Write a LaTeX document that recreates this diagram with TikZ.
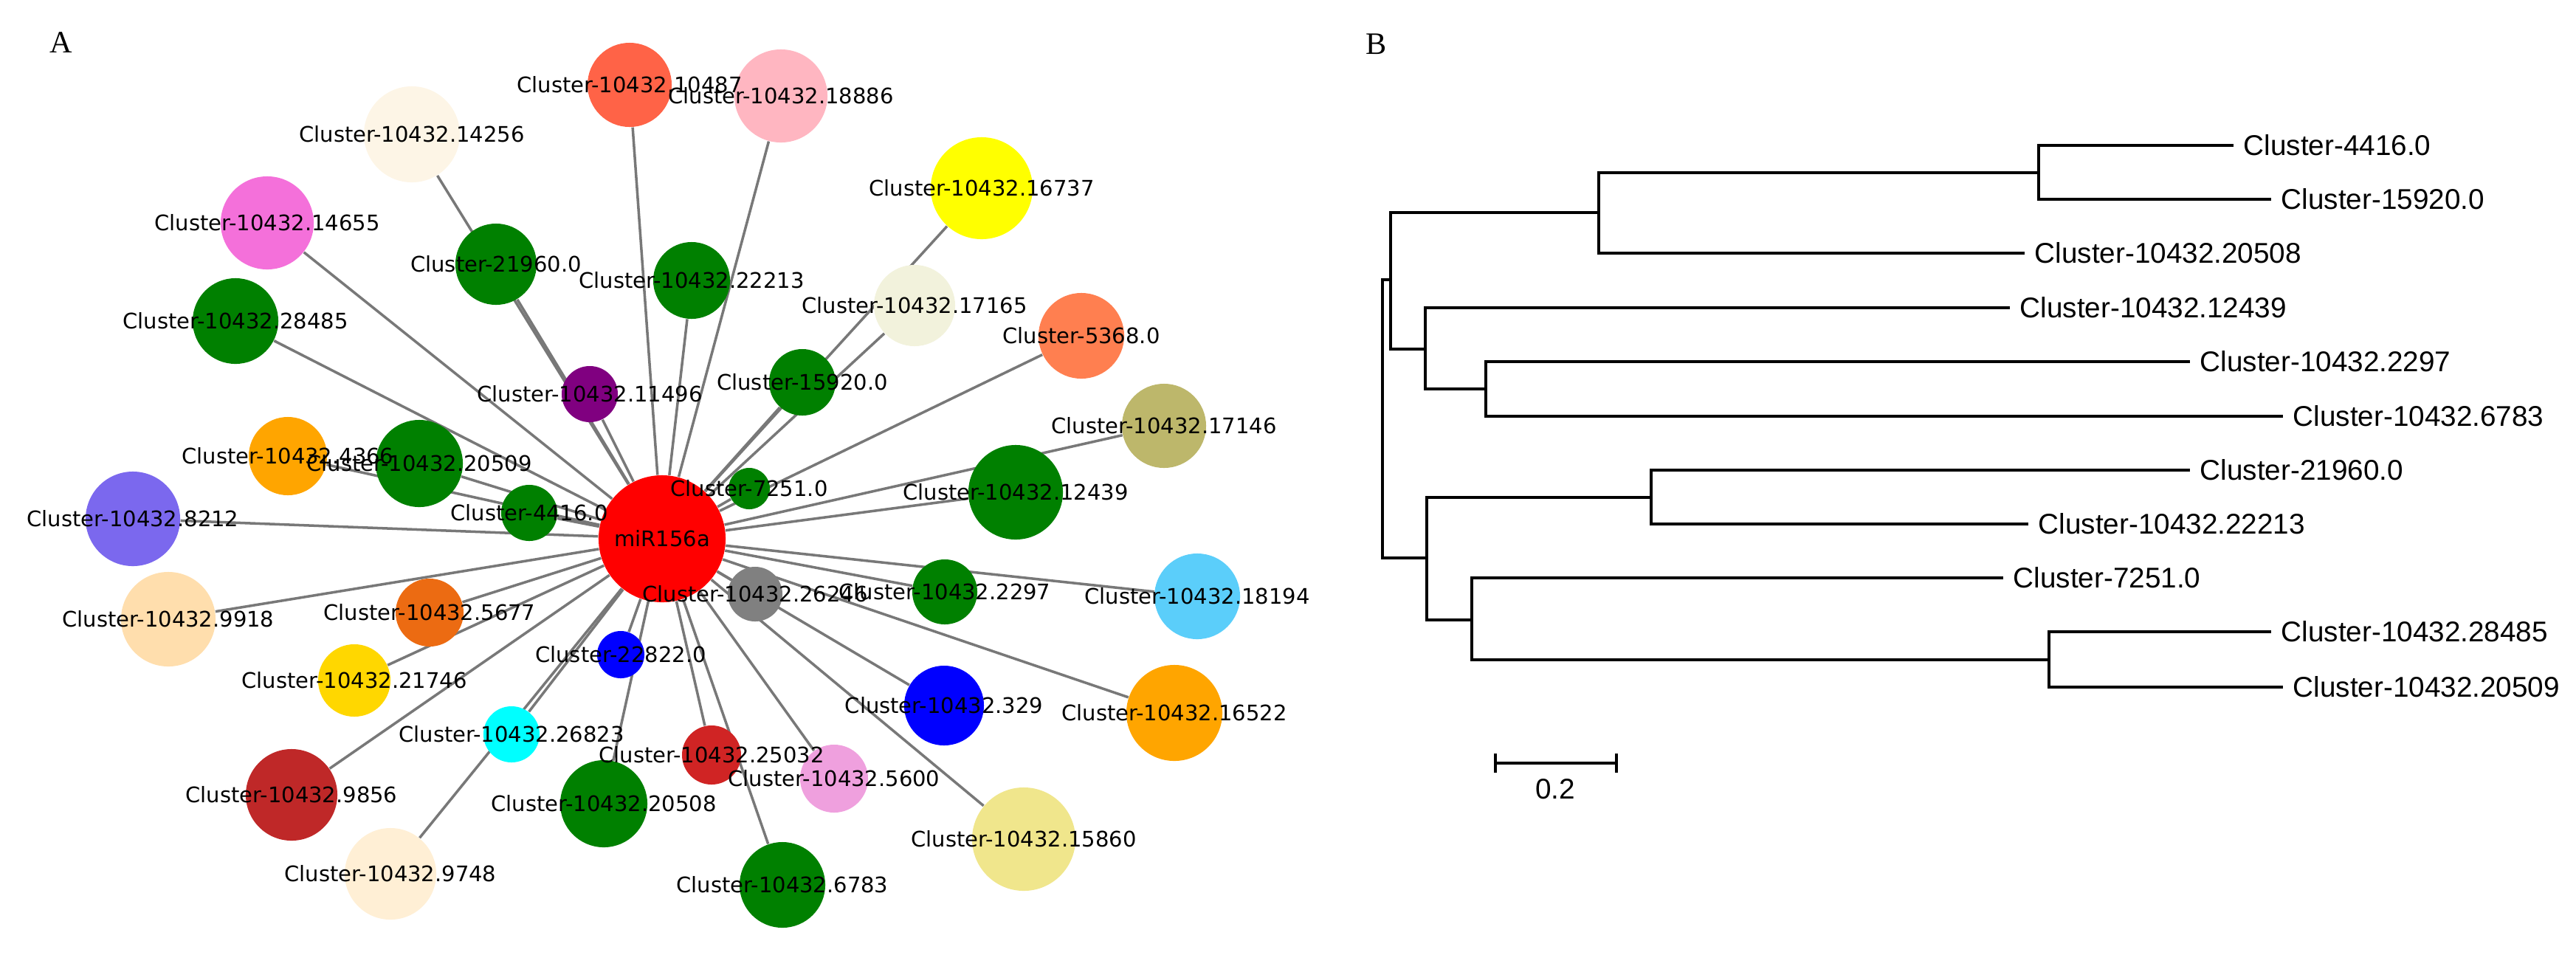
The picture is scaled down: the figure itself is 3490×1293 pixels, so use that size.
\documentclass[tikz,border=0pt]{standalone}
\usepackage{fontspec}
\setmainfont{Liberation Serif}
\newfontfamily\netfont{DejaVu Sans}
\newfontfamily\treefont{Liberation Sans}
\usetikzlibrary{backgrounds}
\definecolor{linkgray}{RGB}{120,120,120}
\definecolor{netgreen}{RGB}{0,128,0}
\definecolor{hubred}{RGB}{255,0,0}
\definecolor{tomato}{RGB}{255,99,71}
\definecolor{lpink}{RGB}{255,182,193}
\definecolor{oldlace}{RGB}{253,245,230}
\definecolor{yellowc}{RGB}{255,255,0}
\definecolor{hotviolet}{RGB}{244,112,218}
\definecolor{beigec}{RGB}{242,242,220}
\definecolor{coral}{RGB}{255,127,80}
\definecolor{purplec}{RGB}{128,0,128}
\definecolor{darkkhaki}{RGB}{189,183,107}
\definecolor{orangec}{RGB}{255,165,0}
\definecolor{slateb}{RGB}{123,104,238}
\definecolor{grayc}{RGB}{128,128,128}
\definecolor{skyb}{RGB}{91,206,250}
\definecolor{navajo}{RGB}{255,222,173}
\definecolor{darkor}{RGB}{236,107,18}
\definecolor{goldc}{RGB}{255,215,0}
\definecolor{bluec}{RGB}{0,0,255}
\definecolor{cyanc}{RGB}{0,255,255}
\definecolor{redbrown}{RGB}{208,36,36}
\definecolor{plumc}{RGB}{239,160,222}
\definecolor{firebr}{RGB}{191,40,40}
\definecolor{khakic}{RGB}{240,230,140}
\definecolor{papaya}{RGB}{255,239,213}
\tikzset{
    gene/.style={
    circle,inner sep=0pt,draw=none,minimum size=#1
    },
    glabel/.style={
    inner sep=0pt,font=\netfont\fontsize{8.25}{10}\selectfont
    },
    link/.style={
    draw=linkgray,line width=1pt
    },
    branch/.style={
    draw=black,line width=0.95pt
    },
    leaf/.style={
    anchor=west,inner xsep=0.13cm,inner ysep=0pt,font=\treefont\fontsize{11}{13}\selectfont
    },
    panel/.style={
    inner sep=0pt,font=\fontsize{12}{14}\selectfont
    },
}
\begin{document}
\begin{tikzpicture}[x=0.01cm, y=-0.01cm]
   \useasboundingbox (0,0) rectangle (3490,1293);
   \node[panel] (pA) at (83,58) {A};
   \node[panel] (pB) at (1865,60) {B};

   % network, panel A
   \node[gene=1.72cm,fill=hubred] (hub) at (897,730) {};
   \node[gene=1.14cm,fill=tomato] (c10487) at (853,115) {};
   \node[gene=1.26cm,fill=lpink] (c18886) at (1058,130) {};
   \node[gene=1.30cm,fill=oldlace] (c14256) at (558,182) {};
   \node[gene=1.38cm,fill=yellowc] (c16737) at (1330,255) {};
   \node[gene=1.26cm,fill=hotviolet] (c14655) at (362,302) {};
   \node[gene=1.10cm,fill=netgreen] (c21960) at (672,358) {};
   \node[gene=1.04cm,fill=netgreen] (c22213) at (937,380) {};
   \node[gene=1.10cm,fill=beigec] (c17165) at (1239,414) {};
   \node[gene=1.16cm,fill=netgreen] (c28485) at (319,435) {};
   \node[gene=1.16cm,fill=coral] (c5368) at (1465,455) {};
   \node[gene=0.76cm,fill=purplec] (c11496) at (799,534) {};
   \node[gene=0.90cm,fill=netgreen] (c15920) at (1087,518) {};
   \node[gene=1.14cm,fill=darkkhaki] (c17146) at (1577,577) {};
   \node[gene=1.06cm,fill=orangec] (c4366) at (390,618) {};
   \node[gene=1.18cm,fill=netgreen] (c20509) at (568,628) {};
   \node[gene=0.56cm,fill=netgreen] (c7251) at (1015,662) {};
   \node[gene=1.28cm,fill=netgreen] (c12439) at (1376,667) {};
   \node[gene=0.76cm,fill=netgreen] (c4416) at (717,695) {};
   \node[gene=1.28cm,fill=slateb] (c8212) at (180,703) {};
   \node[gene=0.74cm,fill=grayc] (c26246) at (1023,805) {};
   \node[gene=0.88cm,fill=netgreen] (c2297) at (1280,802) {};
   \node[gene=1.16cm,fill=skyb] (c18194) at (1622,808) {};
   \node[gene=1.28cm,fill=navajo] (c9918) at (228,839) {};
   \node[gene=0.92cm,fill=darkor] (c5677) at (582,830) {};
   \node[gene=0.98cm,fill=goldc] (c21746) at (480,922) {};
   \node[gene=0.64cm,fill=bluec] (c22822) at (841,887) {};
   \node[gene=1.08cm,fill=bluec] (c329) at (1279,956) {};
   \node[gene=1.30cm,fill=orangec] (c16522) at (1591,966) {};
   \node[gene=0.76cm,fill=cyanc] (c26823) at (693,995) {};
   \node[gene=0.80cm,fill=redbrown] (c25032) at (964,1023) {};
   \node[gene=0.92cm,fill=plumc] (c5600) at (1130,1055) {};
   \node[gene=1.24cm,fill=firebr] (c9856) at (395,1077) {};
   \node[gene=1.18cm,fill=netgreen] (c20508) at (818,1089) {};
   \node[gene=1.40cm,fill=khakic] (c15860) at (1387,1137) {};
   \node[gene=1.16cm,fill=netgreen] (c6783) at (1060,1199) {};
   \node[gene=1.24cm,fill=papaya] (c9748) at (529,1184) {};

   \begin{scope}[on background layer]
   \path[link]
    (hub) edge (c10487) edge (c18886) edge (c14256) edge (c16737)
          edge (c14655) edge (c21960) edge (c22213) edge (c17165)
          edge (c28485) edge (c5368) edge (c11496) edge (c15920)
          edge (c17146) edge (c4366) edge (c20509) edge (c7251)
          edge (c12439) edge (c4416) edge (c8212) edge (c26246)
          edge (c2297) edge (c18194) edge (c9918) edge (c5677)
          edge (c21746) edge (c22822) edge (c329) edge (c16522)
          edge (c26823) edge (c25032) edge (c5600) edge (c9856)
          edge (c20508) edge (c15860) edge (c6783) edge (c9748);
   \end{scope}

   % labels on top of all circles
   \node[glabel] (thub) at (hub) {miR156a};
   \node[glabel] (t10487) at (c10487) {Cluster-10432.10487};
   \node[glabel] (t18886) at (c18886) {Cluster-10432.18886};
   \node[glabel] (t14256) at (c14256) {Cluster-10432.14256};
   \node[glabel] (t16737) at (c16737) {Cluster-10432.16737};
   \node[glabel] (t14655) at (c14655) {Cluster-10432.14655};
   \node[glabel] (t21960) at (c21960) {Cluster-21960.0};
   \node[glabel] (t22213) at (c22213) {Cluster-10432.22213};
   \node[glabel] (t17165) at (c17165) {Cluster-10432.17165};
   \node[glabel] (t28485) at (c28485) {Cluster-10432.28485};
   \node[glabel] (t5368) at (c5368) {Cluster-5368.0};
   \node[glabel] (t11496) at (c11496) {Cluster-10432.11496};
   \node[glabel] (t15920) at (c15920) {Cluster-15920.0};
   \node[glabel] (t17146) at (c17146) {Cluster-10432.17146};
   \node[glabel] (t4366) at (c4366) {Cluster-10432.4366};
   \node[glabel] (t20509) at (c20509) {Cluster-10432.20509};
   \node[glabel] (t7251) at (c7251) {Cluster-7251.0};
   \node[glabel] (t12439) at (c12439) {Cluster-10432.12439};
   \node[glabel] (t4416) at (c4416) {Cluster-4416.0};
   \node[glabel] (t8212) at (c8212) {Cluster-10432.8212};
   \node[glabel] (t26246) at (c26246) {Cluster-10432.26246};
   \node[glabel] (t2297) at (c2297) {Cluster-10432.2297};
   \node[glabel] (t18194) at (c18194) {Cluster-10432.18194};
   \node[glabel] (t9918) at (c9918) {Cluster-10432.9918};
   \node[glabel] (t5677) at (c5677) {Cluster-10432.5677};
   \node[glabel] (t21746) at (c21746) {Cluster-10432.21746};
   \node[glabel] (t22822) at (c22822) {Cluster-22822.0};
   \node[glabel] (t329) at (c329) {Cluster-10432.329};
   \node[glabel] (t16522) at (c16522) {Cluster-10432.16522};
   \node[glabel] (t26823) at (c26823) {Cluster-10432.26823};
   \node[glabel] (t25032) at (c25032) {Cluster-10432.25032};
   \node[glabel] (t5600) at (c5600) {Cluster-10432.5600};
   \node[glabel] (t9856) at (c9856) {Cluster-10432.9856};
   \node[glabel] (t20508) at (c20508) {Cluster-10432.20508};
   \node[glabel] (t15860) at (c15860) {Cluster-10432.15860};
   \node[glabel] (t6783) at (c6783) {Cluster-10432.6783};
   \node[glabel] (t9748) at (c9748) {Cluster-10432.9748};

   % tree, panel B
   \node[leaf] (l4416) at (3026,197) {Cluster-4416.0};
   \node[leaf] (l15920) at (3077,270) {Cluster-15920.0};
   \node[leaf] (l20508) at (2743,343) {Cluster-10432.20508};
   \node[leaf] (l12439) at (2723,417) {Cluster-10432.12439};
   \node[leaf] (l2297) at (2967,490) {Cluster-10432.2297};
   \node[leaf] (l6783) at (3093,564) {Cluster-10432.6783};
   \node[leaf] (l21960) at (2967,637) {Cluster-21960.0};
   \node[leaf] (l22213) at (2748,710) {Cluster-10432.22213};
   \node[leaf] (l7251) at (2714,783) {Cluster-7251.0};
   \node[leaf] (l28485) at (3077,856) {Cluster-10432.28485};
   \node[leaf] (l20509) at (3093,931) {Cluster-10432.20509};

   \coordinate (na) at (2762,234);
   \coordinate (nb) at (2166,288);
   \coordinate (nc) at (2013,527);
   \coordinate (nd) at (1931,473);
   \coordinate (ne) at (1884,379);
   \coordinate (nf) at (2237,674);
   \coordinate (ng) at (2776,894);
   \coordinate (nh) at (1994,840);
   \coordinate (ni) at (1933,756);
   \coordinate (root) at (1873,567);

   \draw[branch] (root) |- (ne) (root) |- (ni);
   \draw[branch] (ne) |- (nb) (ne) |- (nd);
   \draw[branch] (nb) |- (na) (nb) |- (l20508.west);
   \draw[branch] (na) |- (l4416.west) (na) |- (l15920.west);
   \draw[branch] (nd) |- (l12439.west) (nd) |- (nc);
   \draw[branch] (nc) |- (l2297.west) (nc) |- (l6783.west);
   \draw[branch] (ni) |- (nf) (ni) |- (nh);
   \draw[branch] (nf) |- (l21960.west) (nf) |- (l22213.west);
   \draw[branch] (nh) |- (l7251.west) (nh) |- (ng);
   \draw[branch] (ng) |- (l28485.west) (ng) |- (l20509.west);

   % scale bar
   \coordinate (sb1) at (2026,1034);
   \coordinate (sb2) at (2190,1034);
   \draw[branch] (sb1) -- (sb2)
     ([yshift=0.13cm]sb1) -- ([yshift=-0.13cm]sb1)
     ([yshift=0.13cm]sb2) -- ([yshift=-0.13cm]sb2);
   \node[inner sep=0pt,font=\treefont\fontsize{11}{13}\selectfont] (sbl) at (2107,1069) {0.2};
\end{tikzpicture}
\end{document}
